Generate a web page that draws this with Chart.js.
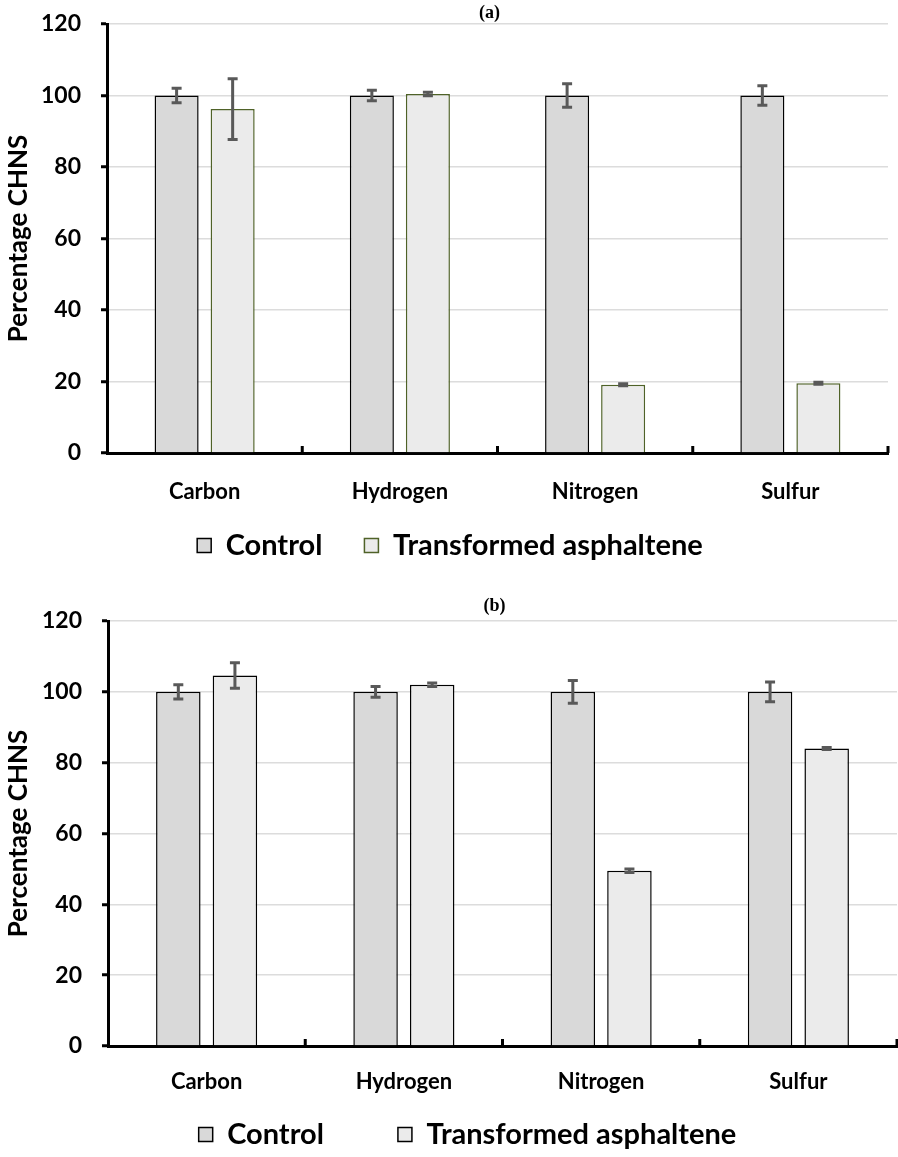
<!DOCTYPE html>
<html>
<head>
<meta charset="utf-8">
<script src="https://cdn.jsdelivr.net/npm/chart.js@4/dist/chart.umd.min.js"></script>
<style>
  html, body { margin: 0; padding: 0; background: #fff; overflow: hidden; width: 898px; height: 1157px; }
  #wrapA { position: absolute; left: 0; top: 0; width: 898px; height: 593px; }
  #wrapB { position: absolute; left: 0; top: 577px; width: 898px; height: 635px; }
</style>
</head>
<body>
<div id="wrapA"><canvas id="chartA"></canvas></div>
<div id="wrapB"><canvas id="chartB"></canvas></div>
<script>
// ---- data ----
const categories = ['Carbon', 'Hydrogen', 'Nitrogen', 'Sulfur'];
const seriesNames = ['Control', 'Transformed asphaltene'];
const yTicks = [0, 20, 40, 60, 80, 100, 120];

const controlA    = [100, 100, 100, 100];
const controlErrA = [2, 1.5, 3.3, 2.7];
const transA      = [96.2, 100.4, 19.1, 19.5];
const transErrA   = [8.5, 0.5, 0.3, 0.3];

const controlB    = [100, 100, 100, 100];
const controlErrB = [2, 1.5, 3.2, 2.8];
const transB      = [104.6, 102, 49.5, 84];
const transErrB   = [3.6, 0.5, 0.5, 0.3];

const FONT = 'Lato, "Open Sans", "DejaVu Sans", sans-serif';

// error bars plugin
const errorBars = {
  id: 'errorBars',
  afterDatasetsDraw(chart) {
    const ctx = chart.ctx;
    const ys = chart.scales.y;
    chart.data.datasets.forEach((ds, di) => {
      const meta = chart.getDatasetMeta(di);
      meta.data.forEach((bar, i) => {
        const v = ds.data[i], e = ds.errors[i];
        const yt = ys.getPixelForValue(v + e);
        const yb = ys.getPixelForValue(v - e);
        ctx.save();
        ctx.strokeStyle = '#595959';
        ctx.lineWidth = 3;
        ctx.beginPath();
        ctx.moveTo(bar.x, yt); ctx.lineTo(bar.x, yb);
        ctx.moveTo(bar.x - 5, yt); ctx.lineTo(bar.x + 5, yt);
        ctx.moveTo(bar.x - 5, yb); ctx.lineTo(bar.x + 5, yb);
        ctx.stroke();
        ctx.restore();
      });
    });
  }
};

// inward category tick marks, panel label, legend offset
const decor = {
  id: 'decor',
  afterLayout(chart, args, opts) {
    const lg = chart.legend;
    if (lg) {
      lg.top += opts.legendShift; lg.bottom += opts.legendShift;
      lg.left += opts.legendShiftX; lg.right += opts.legendShiftX;
    }
  },
  afterDraw(chart, args, opts) {
    const ctx = chart.ctx;
    const xs = chart.scales.x;
    const bottom = chart.chartArea.bottom;
    ctx.save();
    ctx.strokeStyle = '#000';
    ctx.lineWidth = 3;
    ctx.beginPath();
    for (let i = 0; i < categories.length; i++) {
      const x = xs.getPixelForValue(i + 0.5);
      ctx.moveTo(x, bottom);
      ctx.lineTo(x, bottom - 7);
    }
    ctx.stroke();
    ctx.fillStyle = '#000';
    ctx.font = 'bold 18px "Liberation Serif", "Times New Roman", serif';
    ctx.textAlign = 'center';
    ctx.textBaseline = 'middle';
    const ca = chart.chartArea;
    ctx.fillText(opts.label, (ca.left + ca.right) / 2 - 8, opts.labelY);
    ctx.restore();
  }
};

function makeChart(id, ctrl, ctrlErr, tr, trErr, trBorder, cfg) {
  return new Chart(document.getElementById(id), {
    type: 'bar',
    data: {
      labels: categories,
      datasets: [
        { label: seriesNames[0], data: ctrl, errors: ctrlErr,
          backgroundColor: '#d9d9d9', borderColor: '#000000', borderWidth: 1.5,
          categoryPercentage: 0.574, barPercentage: 0.786 },
        { label: seriesNames[1], data: tr, errors: trErr,
          backgroundColor: '#ebebeb', borderColor: trBorder, borderWidth: 1.5,
          categoryPercentage: 0.574, barPercentage: 0.786 }
      ]
    },
    options: {
      responsive: true,
      maintainAspectRatio: false,
      animation: false,
      layout: { padding: cfg.padding },
      plugins: {
        title: { display: false },
        tooltip: { enabled: false },
        decor: { label: cfg.label, labelY: cfg.labelY, legendShift: cfg.legendShift, legendShiftX: cfg.legendShiftX },
        legend: {
          position: 'bottom',
          labels: {
            font: { family: FONT, size: cfg.legendFont, weight: 'bold' },
            color: '#000',
            boxWidth: 14, boxHeight: 14,
            padding: cfg.legendPad,
            generateLabels(chart) {
              return chart.data.datasets.map((ds, i) => ({
                text: ds.label,
                fillStyle: ds.backgroundColor,
                strokeStyle: ds.borderColor,
                lineWidth: 1.5,
                datasetIndex: i,
                hidden: false
              }));
            }
          }
        }
      },
      scales: {
        x: {
          grid: { display: false, drawTicks: false },
          border: { display: true, color: '#000', width: 3 },
          ticks: { color: '#000', font: { family: FONT, size: 22, weight: 'bold' }, padding: cfg.xPad },
          afterFit(s) { s.height = cfg.xHeight; s.paddingLeft = 0; s.paddingRight = 0; }
        },
        y: {
          min: 0, max: 120,
          afterBuildTicks(s) { s.ticks = yTicks.map(v => ({ value: v })); },
          grid: { color: '#dcdcdc', lineWidth: 1.5, tickColor: '#000', tickWidth: 3, tickLength: 6 },
          border: { display: true, color: '#000', width: 3 },
          ticks: { color: '#000', font: { family: FONT, size: 23, weight: 'bold' }, padding: 20 },
          title: { display: true, text: 'Percentage CHNS', color: '#000',
                   font: { family: FONT, size: 26, weight: 'bold' }, padding: { top: 3, bottom: 4 } },
          afterFit(s) { s.width = cfg.yWidth; s.paddingTop = 0; s.paddingBottom = 0; }
        }
      }
    },
    plugins: [errorBars, decor]
  });
}

makeChart('chartA', controlA, controlErrA, transA, transErrA, '#4f6228',
  { padding: { top: 24, right: 10, left: 0, bottom: 3 }, label: '(a)', labelY: 13,
    legendPad: 42, legendFont: 29, legendShift: -20, legendShiftX: 6, xHeight: 56, xPad: 26, yWidth: 107 });
makeChart('chartB', controlB, controlErrB, transB, transErrB, '#000000',
  { padding: { top: 44, right: 1, left: 0, bottom: 3 }, label: '(b)', labelY: 29,
    legendPad: 74, legendFont: 29, legendShift: -50, legendShiftX: 19, xHeight: 50, xPad: 23, yWidth: 108 });
</script>
</body>
</html>
